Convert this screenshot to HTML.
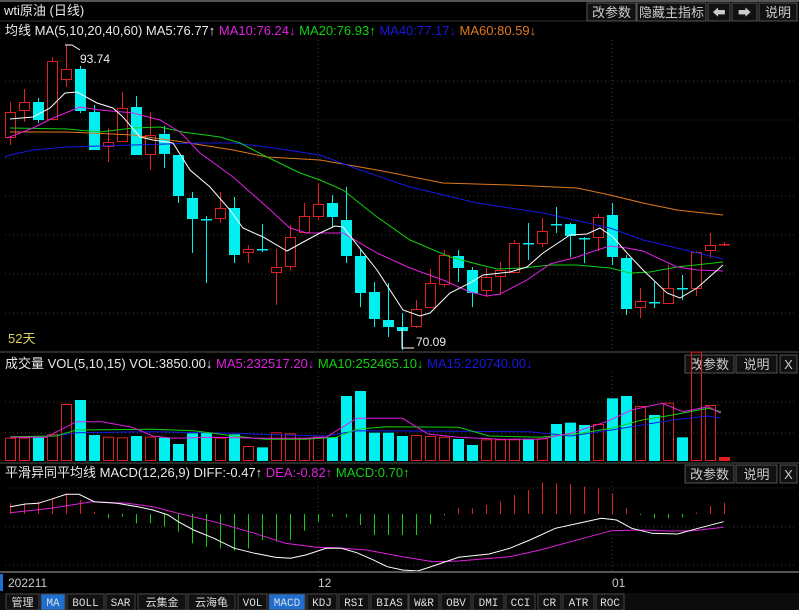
<!DOCTYPE html>
<html><head><meta charset="utf-8">
<style>
html,body{margin:0;padding:0;background:#000;}
svg{display:block;}
text{font-family:"Liberation Sans","Noto Sans CJK SC",sans-serif;font-size:12px;}
.hd{font-size:13px}
.btn{fill:#111;stroke:#555;stroke-width:1}
.bt{fill:#ccc;font-size:13px}
.tab{font-family:"Liberation Mono","Noto Sans CJK SC",monospace;font-size:11px;fill:#ddd}
</style></head><body>
<svg id="s" width="799" height="610" xmlns="http://www.w3.org/2000/svg">
<rect width="799" height="610" fill="#000"/>
<line x1="0" y1="1" x2="799" y2="1" stroke="#555" stroke-width="2"/>
<line x1="0" y1="21" x2="799" y2="21" stroke="#333"/>
<text x="4" y="15" fill="#e8e8e8" class="hd">wti原油 (日线)</text>
<g id="topbtn"></g>
<text x="5" y="35" class="hd"><tspan fill="#e8e8e8">均线 MA(5,10,20,40,60) MA5:76.77↑ </tspan><tspan fill="#e020e0">MA10:76.24↓ </tspan><tspan fill="#10d010">MA20:76.93↑ </tspan><tspan fill="#1818e0">MA40:77.17↓ </tspan><tspan fill="#e07820">MA60:80.59↓</tspan></text>
<g id="grid"></g>
<g id="main"></g>
<text x="8" y="343" fill="#e0d060" class="hd">52天</text>
<line x1="0" y1="352" x2="799" y2="352" stroke="#555"/>
<g id="vol"></g>
<text x="5" y="368" class="hd"><tspan fill="#e8e8e8">成交量 VOL(5,10,15) VOL:3850.00↓ </tspan><tspan fill="#e020e0">MA5:232517.20↓ </tspan><tspan fill="#10d010">MA10:252465.10↓ </tspan><tspan fill="#1818e0">MA15:220740.00↓</tspan></text>
<line x1="0" y1="463" x2="799" y2="463" stroke="#555"/>
<g id="macd"></g>
<text x="5" y="477" class="hd"><tspan fill="#e8e8e8">平滑异同平均线 MACD(12,26,9) DIFF:-0.47↑ </tspan><tspan fill="#e020e0">DEA:-0.82↑ </tspan><tspan fill="#10d010">MACD:0.70↑</tspan></text>
<line x1="0" y1="572" x2="799" y2="572" stroke="#555" stroke-width="2"/>
<rect x="0" y="574" width="3" height="17" fill="#1e6fd0"/>
<text x="8" y="587" fill="#ccc" font-size="13">202211</text>
<text x="318" y="587" fill="#ccc" font-size="13">12</text>
<text x="612" y="587" fill="#ccc" font-size="13">01</text>
<g id="tabs"></g>
</svg>
<script>
const s=document.getElementById('s');
const NS='http://www.w3.org/2000/svg';
function el(p,t,a,txt){const e=document.createElementNS(NS,t);for(const k in a)e.setAttribute(k,a[k]);if(txt!==undefined)e.textContent=txt;document.getElementById(p).appendChild(e);return e;}
[[587,636,'改参数'],[637,706,'隐藏主指标'],[708,730,'⬅'],[732,757,'➡'],[759,797,'说明']].forEach(b=>{
 el('topbtn','rect',{x:b[0],y:3,width:b[1]-b[0],height:18,class:'btn'});
 el('topbtn','text',{x:(b[0]+b[1])/2,y:17,'text-anchor':'middle',class:'bt'},b[2]);});
[[355,'vol'],[465,'macd']].forEach(([y,g])=>{
 [[685,734,'改参数'],[736,777,'说明'],[780,797,'X']].forEach(b=>{
 el(g,'rect',{x:b[0],y:y,width:b[1]-b[0],height:18,class:'btn'});
 el(g,'text',{x:(b[0]+b[1])/2,y:y+14,'text-anchor':'middle',class:'bt'},b[2]);});});
[81,120,158,196,235,274,313].forEach(y=>el('grid','line',{x1:5,y1:y,x2:797,y2:y,stroke:'#3a3a3a','stroke-dasharray':'1,3'}));
[318,612].forEach(x=>el('grid','line',{x1:x,y1:40,x2:x,y2:350,stroke:'#3a3a3a','stroke-dasharray':'1,3'}));
[402,433].forEach(y=>el('vol','line',{x1:5,y1:y,x2:797,y2:y,stroke:'#3a3a3a','stroke-dasharray':'1,3'}));
[488,527,565].forEach(y=>el('macd','line',{x1:5,y1:y,x2:797,y2:y,stroke:'#3a3a3a','stroke-dasharray':'1,3'}));
[318,612].forEach(x=>{el('vol','line',{x1:x,y1:372,x2:x,y2:462,stroke:'#3a3a3a','stroke-dasharray':'1,3'});el('macd','line',{x1:x,y1:482,x2:x,y2:571,stroke:'#3a3a3a','stroke-dasharray':'1,3'});});
const R='#e02020',C='#00f0f0';
const cd=[[112,138,102,145,1],[102,111,89,122,1],[102,120,98,123,0],[61,120,57,120,1],[69,80,45,87,1],[69,111,66,113,0],[112,150,105,150,0],[142,147,128,162,1],[108,142,92,142,1],[107,155,96,155,0],[135,155,112,170,1],[134,154,126,168,0],[155,196,155,203,0],[198,219,192,253,0],[219,219,216,283,0],[208,219,192,223,1],[208,255,197,263,0],[249,253,245,263,1],[249,249,224,252,0],[267,273,249,305,1],[237,267,225,270,1],[216,233,203,233,1],[204,217,183,220,1],[203,217,195,227,0],[220,256,187,263,0],[256,293,250,307,0],[292,319,282,327,0],[320,327,283,337,0],[327,331,313,350,0],[309,327,300,328,1],[283,308,269,308,1],[255,285,250,287,1],[256,268,250,282,0],[270,293,267,307,0],[277,291,268,297,1],[270,277,262,295,1],[243,273,240,273,1],[243,243,223,260,0],[231,244,218,247,1],[224,224,207,233,0],[224,236,223,257,0],[238,238,237,263,0],[217,238,214,251,1],[215,257,203,265,0],[258,309,255,315,0],[301,308,288,318,1],[302,302,282,308,0],[288,304,265,304,1],[288,288,275,300,0],[252,289,251,296,1],[245,251,233,258,1],[244,244,242,246,1]];
function X(i){return 10+14*i;}
cd.forEach((c,i)=>{const x=X(i),col=c[4]?R:C;
 el('main','line',{x1:x+.5,y1:c[2],x2:x+.5,y2:c[3],stroke:col});
 if(c[1]-c[0]<2){el('main','rect',{x:x-5,y:c[0],width:11,height:1.5,fill:col});}
 else if(c[4]) el('main','rect',{x:x-4.5,y:c[0]+.5,width:10,height:c[1]-c[0]-1,fill:'#000',stroke:col});
 else el('main','rect',{x:x-5,y:c[0],width:11,height:c[1]-c[0],fill:col});});
function pl(g,pts,col,w){el(g,'polyline',{points:pts.map(p=>p.join(',')).join(' '),fill:'none',stroke:col,'stroke-width':w||1});}
pl('main',[[10,132],[67,132],[133,135],[183,142],[233,150],[267,157],[320,160],[377,170],[443,183],[510,185],[577,188],[610,195],[643,203],[677,210],[723,215]],'#e07820');
pl('main',[[5,157],[10,155],[33,150],[67,147],[133,145],[200,143],[233,143],[267,147],[320,155],[360,170],[410,187],[477,203],[543,213],[610,228],[643,240],[723,259]],'#1818e0');
pl('main',[[10,128],[67,129],[100,132],[133,128],[160,127],[183,132],[220,137],[240,143],[267,157],[300,173],[320,180],[343,190],[377,217],[410,240],[450,257],[477,264],[497,269],[523,268],[550,265],[577,265],[610,268],[630,273],[650,272],[677,267],[723,262]],'#10d010');
pl('main',[[7,138],[33,128],[53,118],[80,107],[100,110],[133,113],[160,120],[180,132],[200,153],[233,177],[267,207],[290,228],[307,233],[320,233],[343,233],[377,253],[410,268],[443,280],[470,292],[487,296],[500,294],[527,280],[550,264],[577,257],[597,250],[610,246],[627,248],[643,251],[677,267],[697,270],[723,271]],'#e020e0');
pl('main',[[10,119],[33,117],[50,108],[65,93],[77,92],[97,103],[113,108],[123,117],[140,137],[153,140],[173,143],[190,170],[210,187],[230,210],[243,228],[263,237],[287,251],[307,240],[320,233],[335,226],[343,227],[377,270],[403,310],[420,316],[430,313],[450,293],[470,283],[483,275],[510,272],[527,267],[543,253],[570,235],[587,234],[600,228],[613,237],[627,253],[643,270],[667,293],[680,298],[697,288],[723,265]],'#fff');
pl('main',[[65,45],[72,45],[80,50]],'#fff');
el('main','text',{x:80,y:63,fill:'#eee','font-size':'13'},'93.74');
pl('main',[[402,328],[402,348],[414,348]],'#fff');
el('main','text',{x:416,y:346,fill:'#eee','font-size':'13'},'70.09');
const vc=[[1,263],[1,263],[0,263],[1,253],[1,162],[0,150],[0,255],[1,260],[1,262],[0,258],[1,260],[0,263],[0,282],[0,250],[0,248],[1,263],[0,253],[1,288],[0,292],[1,247],[1,250],[1,265],[1,260],[0,262],[0,138],[0,123],[0,248],[0,248],[0,258],[1,255],[1,258],[1,260],[0,267],[0,285],[1,268],[1,268],[1,268],[0,268],[1,265],[0,222],[0,218],[0,225],[1,222],[0,145],[0,138],[1,168],[0,195],[1,158],[0,262],[1,5],[1,165],[1,330]];
vc.forEach((v,i)=>{const x=X(i),y=350+v[1]/3,b=461;
 if(i==51){el('vol','rect',{x:x-5,y:457,width:11,height:4,fill:R});return;}
 if(v[0]) el('vol','rect',{x:x-4.5,y:y+.5,width:10,height:b-y-1,fill:'none',stroke:R});
 else el('vol','rect',{x:x-5,y:y,width:11,height:b-y,fill:C});});
function T(pts,yo){return pts.map(p=>[(p[0]/1.9625).toFixed(1),(yo+p[1]/3).toFixed(1)]);}
pl('vol',T([[20,262],[110,258],[150,248],[300,245],[460,250],[560,255],[640,258],[700,242],[1040,245],[1120,258],[1200,240],[1260,225],[1320,210],[1390,198],[1415,205]],350),'#1818e0');
pl('vol',T([[20,260],[110,258],[150,240],[300,238],[380,242],[460,258],[520,268],[600,268],[660,262],[700,238],[760,230],[900,232],[960,258],[1060,262],[1140,250],[1200,235],[1260,210],[1320,195],[1390,175],[1415,185]],350),'#10d010');
pl('vol',T([[20,262],[90,262],[150,215],[200,215],[260,232],[300,258],[340,265],[420,262],[520,265],[600,265],[640,262],[700,205],[790,205],[840,252],[900,262],[980,268],[1060,268],[1120,250],[1190,215],[1240,180],[1300,160],[1340,185],[1390,170],[1415,190]],350),'#e020e0');
const mh=[130,130,125,115,100,120,155,175,170,190,190,200,215,250,260,265,272,265,240,245,240,212,185,170,172,195,225,225,225,225,192,166,145,145,135,125,105,90,68,70,72,80,85,100,145,165,175,175,172,158,138,128];
mh.forEach((h,i)=>{const x=X(i)+.5,y0=514,y=460+h/3;
 el('macd','line',{x1:x,y1:y0,x2:x,y2:y,stroke:h<162?R:'#10d010'});});
pl('macd',T([[20,158],[100,145],[180,125],[250,130],[300,140],[350,160],[420,185],[500,220],[560,250],[620,262],[660,263],[720,270],[790,290],[850,305],[900,303],[1000,290],[1060,270],[1120,245],[1200,212],[1260,210],[1310,213],[1360,212],[1420,202]],460),'#e020e0');
pl('macd',T([[20,140],[50,132],[75,130],[100,118],[130,103],[155,103],[185,125],[230,130],[270,140],[300,150],[330,165],[350,185],[380,210],[420,235],[460,265],[500,280],[540,292],[570,295],[600,285],[640,265],[670,265],[700,278],[730,298],[760,320],[790,330],[820,333],[850,318],[900,292],[960,282],[1000,265],[1040,240],[1090,205],[1140,188],[1180,175],[1210,180],[1240,205],[1280,220],[1330,222],[1370,205],[1420,185]],460),'#fff');
el('tabs','rect',{x:0,y:593,width:799,height:17,fill:'#0c0c0c'});
[[6,39,'管理'],[41,65,'MA',1],[67,104,'BOLL'],[106,135,'SAR'],[138,186,'云集金'],[188,235,'云海龟'],[238,267,'VOL'],[269,305,'MACD',1],[307,337,'KDJ'],[339,369,'RSI'],[371,408,'BIAS'],[409,439,'W&R'],[441,471,'OBV'],[473,504,'DMI'],[506,535,'CCI'],[538,561,'CR'],[563,594,'ATR'],[596,624,'ROC']].forEach(t=>{
 el('tabs','rect',{x:t[0],y:594,width:t[1]-t[0],height:16,fill:t[3]?'#1e6fd0':'#111',stroke:'#444'});
 el('tabs','text',{x:(t[0]+t[1])/2,y:606,'text-anchor':'middle',class:'tab','font-size':t[0]<40||t[0]>130&&t[0]<190?'13':'11'},t[2]);});
</script>
</body></html>
